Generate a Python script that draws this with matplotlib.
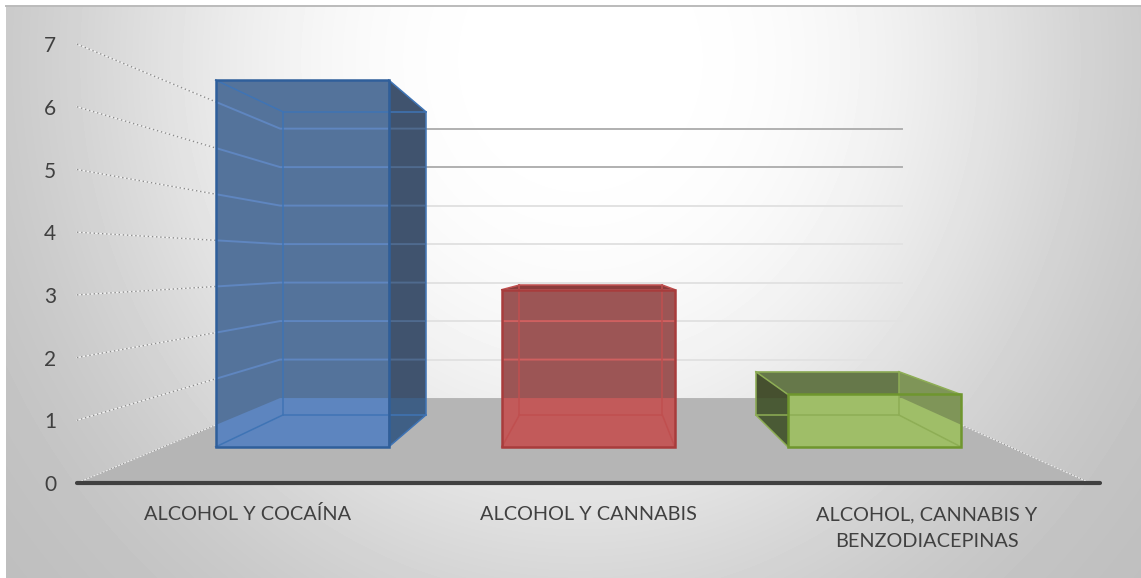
import numpy as np
import matplotlib
matplotlib.use('Agg')
import matplotlib.pyplot as plt
from matplotlib.patches import Polygon

plt.rcParams['font.family'] = ['Lato', 'DejaVu Sans']

categories = ['ALCOHOL Y COCAÍNA', 'ALCOHOL Y CANNABIS', 'ALCOHOL, CANNABIS Y\nBENZODIACEPINAS']
values = [7, 3, 1]
y_ticks = [0, 1, 2, 3, 4, 5, 6, 7]
label_x = [248, 588, 927]

# colours per bar
front_wall = ['#54739b', '#9c5555', '#9fbe68']
front_floor = ['#5d85bf', '#c25a5a', '#9fbe68']
edge_dark = ['#2f5f9b', '#a83c3c', '#6f962e']
edge_light = ['#3f74b5', '#c04f4f', '#8eae55']
grid_inside = ['#5f86c0', '#cf6060', '#9fbe68']
grid_side = ['#4f6a8e', '#cf6060', '#9fbe68']
# (wall colour, floor colour), None = same as the front
right_side = [('#40536e', '#3f5f85'), None, ('#7f9558', '#9fbe68')]
left_side = [None, None, ('#46502f', '#4a5a35')]
top_side = [None, '#8a3c3c', '#66784a']

# the perspective of the 3d chart, in pixels of the image
vx, vy = 603, 263
base_y = 483
unit = 62.7
k = 0.629
floor_left, floor_right = 77, 1090
cat_left, cat_step = 72, 342.3
half_bar = 103.5
near, far = 0.312, 0.711


def project(x, v, d):
    s = 1 / (1 + k * d)
    return (vx + (x - vx) * s, vy + (base_y - v * unit - vy) * s)


fig = plt.figure(figsize=(11.41, 5.78), dpi=100, facecolor='white')
ax = fig.add_axes([0, 0, 1, 1])

# background
xx, yy = np.meshgrid(np.arange(6, 1141), np.arange(6, 578))
r = np.sqrt(((xx - 580) / 520.0) ** 2 + ((yy - 60) / 560.0) ** 2)
bg = 0.74 + 0.26 * np.exp(-(r / 0.95) ** 3)
ax.imshow(bg, cmap='gray', vmin=0, vmax=1, extent=(6, 1141, 578, 6), aspect='auto', zorder=0)
ax.plot([6, 1141], [5.5, 5.5], color='#bbbbbb', lw=1.4, zorder=1)
ax.set_xlim(0, 1141)
ax.set_ylim(578, 0)
ax.axis('off')

# floor
floor_pts = [project(floor_left, 0, 0), project(floor_right, 0, 0),
             project(floor_right, 0, 1), project(floor_left, 0, 1)]
floor = Polygon(floor_pts, closed=True, facecolor='#b5b5b5', edgecolor='none', zorder=2)
ax.add_patch(floor)


def grid_line(v):
    pts = [project(floor_left, v, 0), project(floor_left, v, 1), project(floor_right, v, 1)]
    return [p[0] for p in pts], [p[1] for p in pts]


# left wall lines and back wall lines
for v in y_ticks:
    gx, gy = grid_line(v)
    if v == 0:
        continue
    ax.plot(gx[:2], gy[:2], color='#f2f2f2', lw=0.9, zorder=2)
    ax.plot(gx[:2], gy[:2], color='#8c8c8c', lw=1.0, ls=(0, (1, 2)), zorder=2)
    ax.plot(gx[1:], gy[1:], color='#b0b0b0' if v >= 6 else '#e2e2e2', lw=1.4, zorder=2)

# floor side edges
for x in [floor_left, floor_right]:
    p0 = project(x, 0, 0)
    p1 = project(x, 0, 1)
    ax.plot([p0[0], p1[0]], [p0[1], p1[1]], color='#ececec', lw=0.8, zorder=2)
    ax.plot([p0[0], p1[0]], [p0[1], p1[1]], color='#8f8f8f', lw=0.8, ls=(0, (1, 2)), zorder=2)

# axis line
ax.plot([floor_left, 1100], [base_y, base_y], color='#404040', lw=3, solid_capstyle='round', zorder=3)


def draw_face(pts, wall_col, floor_col, line_col, z):
    face = Polygon(pts, closed=True, facecolor=wall_col, edgecolor='none', zorder=z)
    ax.add_patch(face)
    over = Polygon(pts, closed=True, facecolor=floor_col, edgecolor='none', zorder=z)
    ax.add_patch(over)
    over.set_clip_path(floor)
    for v in y_ticks[1:]:
        gx, gy = grid_line(v)
        ln, = ax.plot(gx, gy, color=line_col, lw=1.4, zorder=z + 0.1)
        ln.set_clip_path(face)


# bars
for i, val in enumerate(values):
    cx = cat_left + cat_step * (i + 0.5)
    x0, x1 = cx - half_bar, cx + half_bar

    fbl, fbr = project(x0, 0, near), project(x1, 0, near)
    ftl, ftr = project(x0, val, near), project(x1, val, near)
    bbl, bbr = project(x0, 0, far), project(x1, 0, far)
    btl, btr = project(x0, val, far), project(x1, val, far)

    z = 4 + i
    draw_face([fbl, fbr, ftr, ftl], front_wall[i], front_floor[i], grid_inside[i], z)
    if top_side[i] is not None:
        draw_face([ftl, ftr, btr, btl], top_side[i], top_side[i], grid_inside[i], z + 0.2)
    if left_side[i] is not None:
        draw_face([fbl, ftl, btl, bbl], left_side[i][0], left_side[i][1], grid_side[i], z + 0.2)
    if right_side[i] is not None:
        draw_face([fbr, ftr, btr, bbr], right_side[i][0], right_side[i][1], grid_side[i], z + 0.2)

    # inner edges of the box
    for a, b in [(bbl, bbr), (bbl, btl), (bbr, btr), (btl, btr), (fbl, bbl), (fbr, bbr), (ftl, btl), (ftr, btr)]:
        ax.plot([a[0], b[0]], [a[1], b[1]], color=edge_light[i], lw=1.1, zorder=z + 0.4)
    # outer edges
    ax.add_patch(Polygon([fbl, fbr, ftr, ftl], closed=True, facecolor='none',
                         edgecolor=edge_dark[i], lw=1.8, joinstyle='miter', zorder=z + 0.5))

# value labels
for v in y_ticks:
    ax.text(50, base_y - v * unit, str(v), ha='center', va='center_baseline',
            fontsize=15, color='#404040', zorder=10)

# category labels
for lx, name in zip(label_x, categories):
    ax.text(lx, 528 if '\n' in name else 514, name, ha='center', va='center', fontsize=14.3,
            color='#404040', linespacing=1.65, zorder=10)

fig.savefig('out.png', dpi=100)
